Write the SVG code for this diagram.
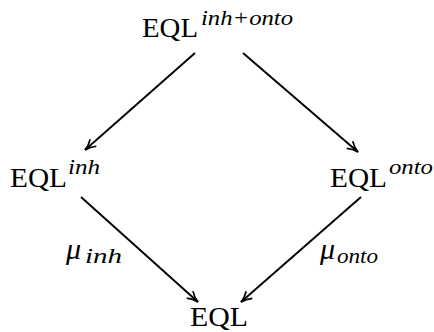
<svg xmlns="http://www.w3.org/2000/svg" width="434" height="332" viewBox="0 0 434 332">
<style>
.m{font-family:"Liberation Serif","DejaVu Serif","Noto Serif",serif;font-size:28px;fill:#000}
.s{font-family:"Liberation Serif","DejaVu Serif","Noto Serif",serif;font-style:italic;font-size:20px;fill:#000}
.mu{font-family:"Liberation Serif","DejaVu Serif","Noto Serif",serif;font-style:italic;font-size:30px;fill:#000}
.c{stroke:#000;stroke-width:1.9;fill:none;marker-end:url(#ah)}
</style>
<defs>
<marker id="ah" viewBox="0 0 13 11" refX="12" refY="5.5" markerWidth="13" markerHeight="11" markerUnits="userSpaceOnUse" orient="auto">
<path d="M1,0.8 Q6,4.5 12,5.5 Q6,6.5 1,10.2" fill="none" stroke="#000" stroke-width="1.7"/>
</marker>
</defs>
<rect width="434" height="332" fill="#fff"/>
<g id="connectors">
<line class="c" x1="195" y1="53" x2="85" y2="150"/>
<line class="c" x1="243" y1="53" x2="358" y2="152"/>
<line class="c" x1="81" y1="197" x2="198" y2="302"/>
<line class="c" x1="361" y1="197" x2="241" y2="302"/>
</g>
<g id="top">
<text class="m" x="142" y="37" textLength="56" lengthAdjust="spacingAndGlyphs">EQL</text>
<text class="s" x="201" y="25" textLength="92" lengthAdjust="spacingAndGlyphs">inh+onto</text>
</g>
<g id="left">
<text class="m" x="10" y="187" textLength="57" lengthAdjust="spacingAndGlyphs">EQL</text>
<text class="s" x="68" y="174" textLength="32" lengthAdjust="spacingAndGlyphs">inh</text>
</g>
<g id="right">
<text class="m" x="330" y="187" textLength="57" lengthAdjust="spacingAndGlyphs">EQL</text>
<text class="s" x="389" y="174" textLength="44" lengthAdjust="spacingAndGlyphs">onto</text>
</g>
<g id="bottom">
<text class="m" x="190" y="326" textLength="58" lengthAdjust="spacingAndGlyphs">EQL</text>
</g>
<g id="label-inh">
<text class="mu" x="66" y="259">μ</text>
<text class="s" x="85" y="263" textLength="37" lengthAdjust="spacingAndGlyphs">inh</text>
</g>
<g id="label-onto">
<text class="mu" x="320" y="259">μ</text>
<text class="s" x="337" y="263" textLength="41" lengthAdjust="spacingAndGlyphs">onto</text>
</g>
</svg>
